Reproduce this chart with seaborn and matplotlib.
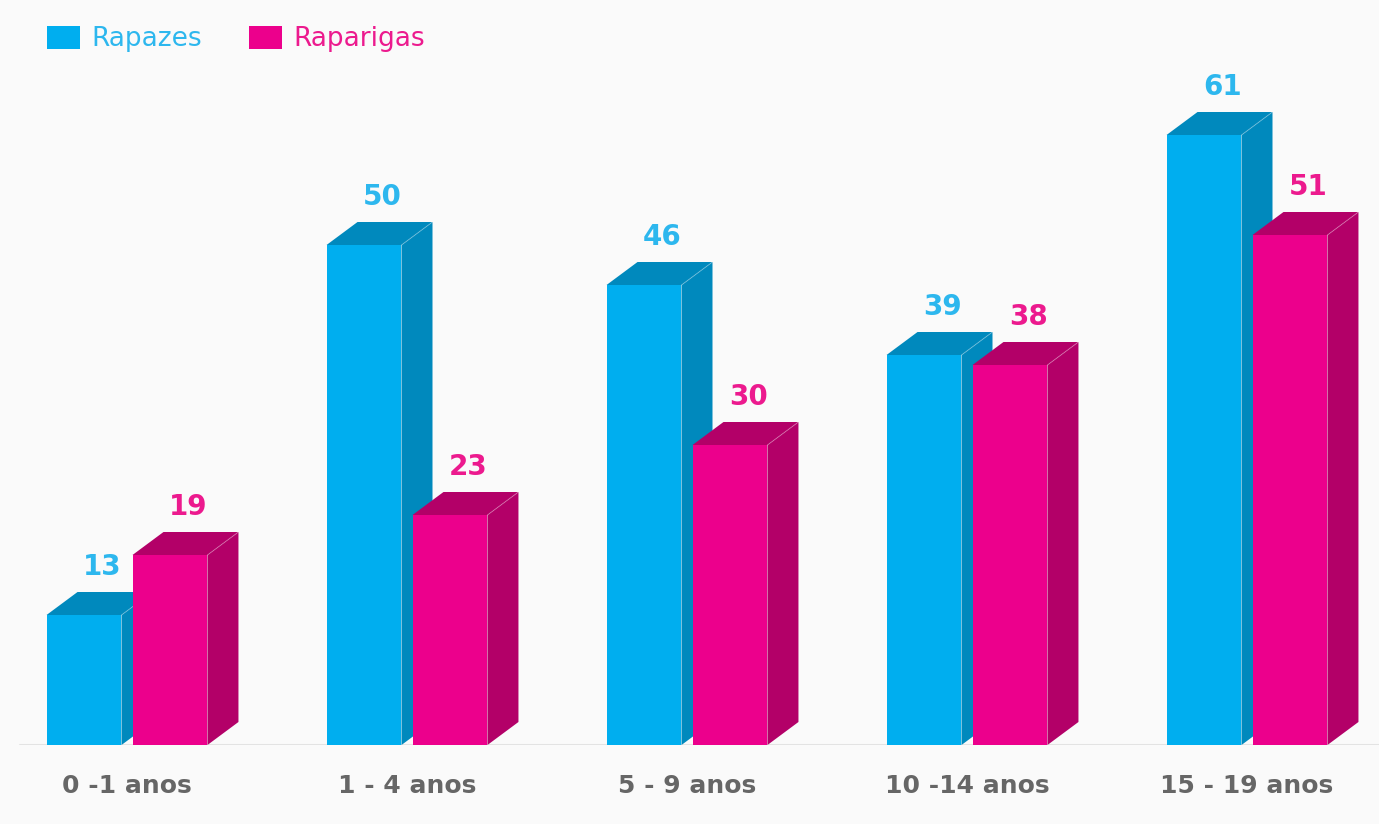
import numpy as np
import pandas as pd
import matplotlib
matplotlib.use("Agg")
import matplotlib.pyplot as plt
from matplotlib.patches import Polygon, Patch
import seaborn as sns

# values
categorias = ["0 -1 anos", "1 - 4 anos", "5 - 9 anos", "10 -14 anos", "15 - 19 anos"]
rapazes = [13, 50, 46, 39, 61]
raparigas = [19, 23, 30, 38, 51]
series = ["Rapazes", "Raparigas"]

front = {"Rapazes": "#00AEEF", "Raparigas": "#EC008C"}
dark = {"Rapazes": "#0089BD", "Raparigas": "#B30068"}
txt = {"Rapazes": "#2DB7EE", "Raparigas": "#EC1A8E"}

df = pd.DataFrame({
    "faixa": categorias * 2,
    "sexo": ["Rapazes"] * len(categorias) + ["Raparigas"] * len(categorias),
    "n": rapazes + raparigas,
})

sns.set_theme(style="white")
plt.rcParams["font.family"] = ["DejaVu Sans"]

W, H = 1379, 824
fig = plt.figure(figsize=(W / 100, H / 100), dpi=100, facecolor="#FAFAFA")
base_px = 745          # baseline, pixels from top
ax = fig.add_axes([0, (H - base_px) / H, 1, base_px / H])
ax.set_facecolor("#FAFAFA")

sns.barplot(data=df, x="faixa", y="n", hue="sexo", hue_order=series,
            palette=front, width=0.614, gap=0.128, saturation=1,
            legend=False, ax=ax)

grp = 280.0            # pixels between group centres
px_unit = 10.0         # pixels per value unit
ax.set_xlim(-127 / grp, (W - 127) / grp)
ax.set_ylim(0, base_px / px_unit)

dx = 31 / grp
dy = 23 / px_unit

# 3D faces (side + top) for each bar
for k, bar in enumerate(ax.patches):
    s = series[k // len(categorias)]
    x0 = bar.get_x()
    x1 = x0 + bar.get_width()
    h = bar.get_height()
    z = 2 + k // len(categorias)
    bar.set_zorder(z + 0.2)
    bar.set_edgecolor("none")
    side = Polygon([(x1, 0), (x1 + dx, dy), (x1 + dx, h + dy), (x1, h)],
                   closed=True, facecolor=dark[s], edgecolor="none", zorder=z)
    top = Polygon([(x0, h), (x0 + dx, h + dy), (x1 + dx, h + dy), (x1, h)],
                  closed=True, facecolor=dark[s], edgecolor="none", zorder=z + 0.1)
    ax.add_patch(side)
    ax.add_patch(top)
    ax.plot([x1, x1 + dx], [h, h + dy], color="white", alpha=0.25, lw=0.8, zorder=z + 0.15)
    ax.text((x0 + x1) / 2 + dx / 2 + 0.01, h + dy + 1.1, f"{int(h)}", ha="center", va="bottom",
            fontsize=20, fontweight="bold", color=txt[s], zorder=10)

ax.axhline(0, xmin=20 / W, xmax=1, color="#E3E3E3", lw=1.5, zorder=1)

ax.set_xlabel("")
ax.set_ylabel("")
ax.set_yticks([])
ax.tick_params(axis="x", length=0, pad=21, labelsize=18, labelcolor="#666666")
for lab in ax.get_xticklabels():
    lab.set_fontweight("bold")
sns.despine(ax=ax, left=True, bottom=True)

handles = [Patch(facecolor=front[s], edgecolor="none") for s in series]
leg = fig.legend(handles, series, loc="upper left", bbox_to_anchor=(47 / W, 1 - 26 / H),
                 ncol=2, frameon=False, fontsize=19, handlelength=1.25, handleheight=0.95,
                 handletextpad=0.45, columnspacing=1.75, borderpad=0, borderaxespad=0)
for t, s in zip(leg.get_texts(), series):
    t.set_color(txt[s])

fig.savefig("out.png", dpi=100, facecolor=fig.get_facecolor())
